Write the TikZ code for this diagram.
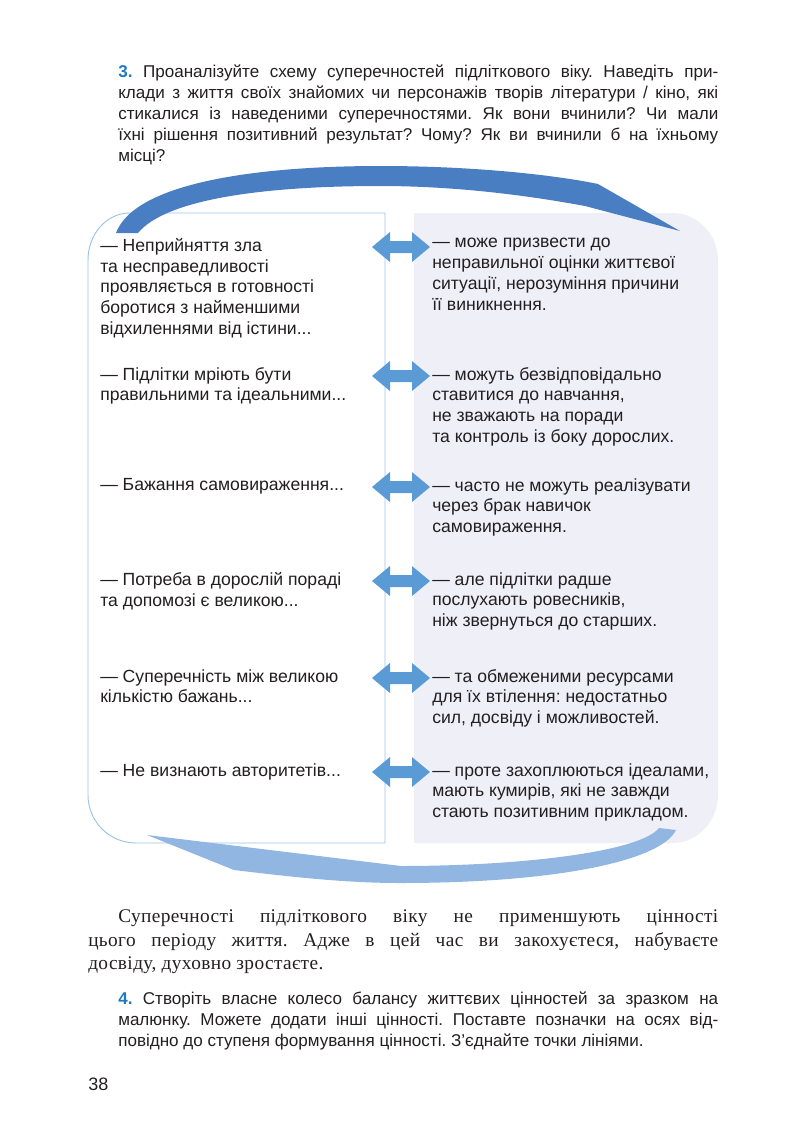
\documentclass[tikz,border=0pt]{standalone}
\usepackage{fontspec}
\setmainfont{Liberation Sans}
\newfontfamily\serifb[LetterSpace=2]{Liberation Serif}
\frenchspacing
\definecolor{numblue}{HTML}{1F78C1}
\definecolor{topar}{HTML}{4A7EC2}
\definecolor{botar}{HTML}{92B6E2}
\definecolor{dbl}{HTML}{5B9BD5}
\definecolor{lav}{HTML}{EFEFF8}
\definecolor{lborder}{HTML}{9DC3E6}
\definecolor{txt}{HTML}{231F20}
\tikzset{
  item/.style={anchor=north west,align=left,inner sep=0pt,font=\fontsize{13.2}{15.6}\selectfont,text=txt},
  para/.style={anchor=north west,align=left,inner sep=0pt,text=txt},
}
\newcommand{\jl}[1]{\makebox[450pt][s]{#1}}
\newcommand{\dblarrow}[2]{%
  \fill[dbl] (372,#2) -- (390,#2-15) -- (390,#2-6) -- (412,#2-6) -- (412,#2-15) -- (430,#2) -- (412,#2+15) -- (412,#2+6) -- (390,#2+6) -- (390,#2+15) -- cycle;}
\begin{document}
\begin{tikzpicture}[x=0.75pt,y=-0.75pt]
\useasboundingbox (0,0) rectangle (800,1139);
% header
\node[para,font=\fontsize{12.8}{15.75}\selectfont] (head) at (118,65) {%
\jl{{\color{numblue}\bfseries 3.} Проаналізуйте схему суперечностей підліткового віку. Наведіть при-}\\
\jl{клади з життя своїх знайомих чи персонажів творів літератури / кіно, які}\\
\jl{стикалися із наведеними суперечностями. Як вони вчинили? Чи мали}\\
\jl{їхні рішення позитивний результат? Чому? Як ви вчинили б на їхньому}\\
місці?};
% boxes
\draw[lborder,fill=white,line width=0.7pt] (385,213) -- (130,213) to[out=180,in=90] (88,260) -- (88,795) to[out=-90,in=180] (136,843) -- (385,843) -- cycle;
\fill[lav] (414,213) -- (672,213) to[out=0,in=90] (718,260) -- (718,795) to[out=-90,in=0] (672,843) -- (414,843) -- cycle;
% top curved arrow
\fill[topar] (116,233) .. controls (135,182) and (260,166) .. (380,166)
  .. controls (480,166) and (560,176) .. (598,184) -- (680,231)
  -- (585,206) .. controls (520,194) and (450,186) .. (380,186)
  .. controls (260,186) and (165,200) .. (138,233) -- cycle;
% bottom curved arrow
\fill[botar] (147,835) -- (234,870) .. controls (300,878) and (350,883) .. (400,883)
  .. controls (560,883) and (662,860) .. (676,830) -- (659,828)
  .. controls (640,852) and (520,866) .. (401,866) -- cycle;
% double arrows
\dblarrow{0}{247}
\dblarrow{0}{376}
\dblarrow{0}{487}
\dblarrow{0}{581}
\dblarrow{0}{678}
\dblarrow{0}{772}
% left texts
\node[item] (l1) at (100,238) {— Неприйняття зла\\та несправедливості\\проявляється в готовності\\боротися з найменшими\\відхиленнями від істини...};
\node[item] (l2) at (100,367) {— Підлітки мріють бути\\правильними та ідеальними...};
\node[item] (l3) at (100,478) {— Бажання самовираження...};
\node[item] (l4) at (100,572) {— Потреба в дорослій пораді\\та допомозі є великою...};
\node[item] (l5) at (100,669) {— Суперечність між великою\\кількістю бажань...};
\node[item] (l6) at (100,763) {— Не визнають авторитетів...};
% right texts
\node[item] (r1) at (432,238) {— може призвести до\\неправильної оцінки життєвої\\ситуації, нерозуміння причини\\її виникнення.};
\node[item] (r2) at (432,367) {— можуть безвідповідально\\ставитися до навчання,\\не зважають на поради\\та контроль із боку дорослих.};
\node[item] (r3) at (432,478) {— часто не можуть реалізувати\\через брак навичок\\самовираження.};
\node[item] (r4) at (432,572) {— але підлітки радше\\послухають ровесників,\\ніж звернуться до старших.};
\node[item] (r5) at (432,669) {— та обмеженими ресурсами\\для їх втілення: недостатньо\\сил, досвіду і можливостей.};
\node[item] (r6) at (432,763) {— проте захоплюються ідеалами,\\мають кумирів, які не завжди\\стають позитивним прикладом.};
% serif paragraph
\node[para,font=\serifb\fontsize{14.5}{17.5}\selectfont] (p1) at (118,909) {\makebox[450pt][s]{Суперечності підліткового віку не применшують цінності}};
\node[para,font=\serifb\fontsize{14.5}{17.5}\selectfont] (p2) at (88,932) {\makebox[472.5pt][s]{цього періоду життя. Адже в цей час ви закохуєтеся, набуваєте}\\досвіду, духовно зростаєте.};
% section 4
\node[para,font=\fontsize{12.8}{15.75}\selectfont] (s4) at (118,992) {%
\jl{{\color{numblue}\bfseries 4.} Створіть власне колесо балансу життєвих цінностей за зразком на}\\
\jl{малюнку. Можете додати інші цінності. Поставте позначки на осях від-}\\
повідно до ступеня формування цінності. З’єднайте точки лініями.};
\node[para,font=\fontsize{13.5}{15}\selectfont] (pg) at (88,1078) {38};
\end{tikzpicture}
\end{document}
